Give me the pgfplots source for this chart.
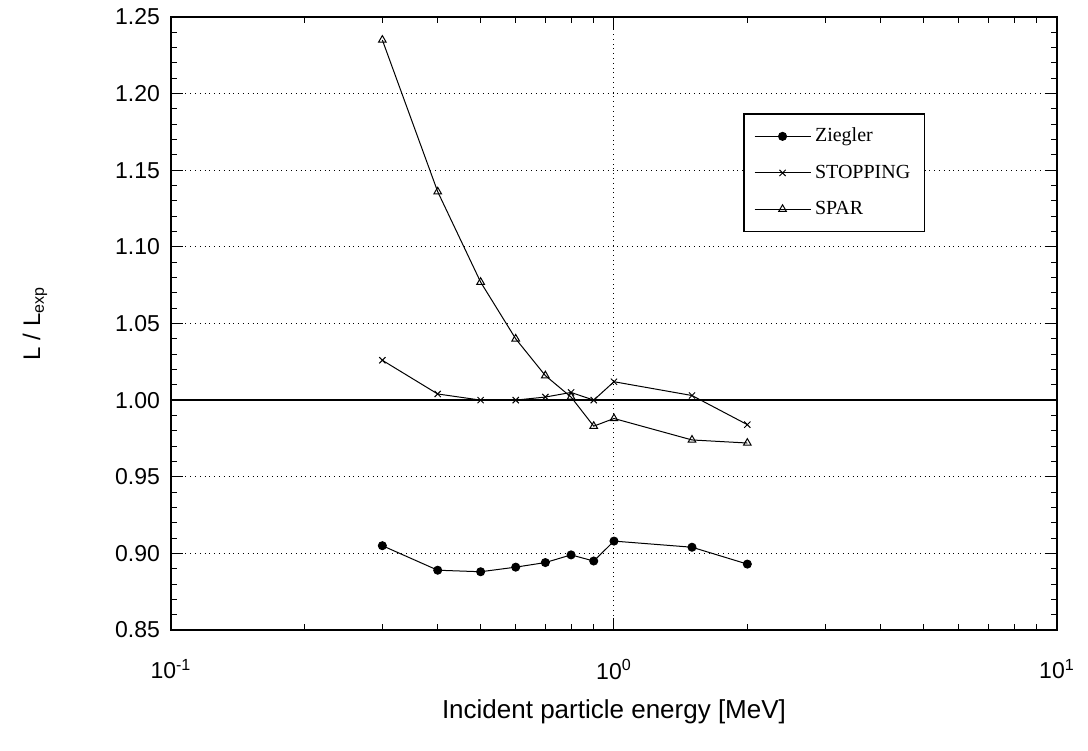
\documentclass[border=0pt]{standalone}
\usepackage{fontspec}
\setmainfont{Liberation Sans}
\newfontfamily\legserif{Liberation Serif}
\usepackage{pgfplots}
\pgfplotsset{compat=1.18}

\pgfplotstableread{
x y
0.3 0.905
0.4 0.889
0.5 0.888
0.6 0.891
0.7 0.894
0.8 0.899
0.9 0.895
1.0 0.908
1.5 0.904
2.0 0.893
}\ziegler

\pgfplotstableread{
x y
0.3 1.026
0.4 1.004
0.5 1.000
0.6 1.000
0.7 1.002
0.8 1.005
0.9 1.000
1.0 1.012
1.5 1.003
2.0 0.984
}\stopping

\pgfplotstableread{
x y
0.3 1.235
0.4 1.136
0.5 1.077
0.6 1.040
0.7 1.016
0.8 1.002
0.9 0.983
1.0 0.988
1.5 0.974
2.0 0.972
}\spar

\begin{document}
\begin{tikzpicture}
\begin{axis}[
  scale only axis,
  width=443pt, height=306.5pt,
  xmode=log,
  xmin=0.1, xmax=10,
  ymin=0.85, ymax=1.25,
  axis line style={line width=0.7pt},
  xtick={0.1,1,10},
  xticklabels={10\textsuperscript{-1},10\textsuperscript{0},10\textsuperscript{1}},
  ytick={0.85,0.90,0.95,1.00,1.05,1.10,1.15,1.20,1.25},
  minor y tick num=4,
  yticklabel style={/pgf/number format/fixed, /pgf/number format/fixed zerofill, /pgf/number format/precision=2, /pgf/number format/assume math mode=true, xshift=-2pt},
  tick label style={font=\fontsize{11.5}{13}\selectfont},
  xticklabel style={yshift=-11pt},
  tick align=inside,
  major tick length=6pt,
  minor tick length=3pt,
  tick style={black, line width=0.5pt},
  xmajorgrids, ymajorgrids,
  major grid style={dotted, black, line width=0.5pt},
  extra y ticks={1},
  extra y tick labels={},
  extra y tick style={grid=major, major grid style={solid, black, line width=0.7pt}},
  xlabel={Incident particle energy [MeV]},
  ylabel={L / L\textsubscript{exp}},
  every axis x label/.style={at={(rel axis cs:0.5,0)}, anchor=center, yshift=-41pt, font=\fontsize{13}{15}\selectfont},
  every axis y label/.style={at={(rel axis cs:0,0.5)}, anchor=center, rotate=90, yshift=68pt, font=\fontsize{12}{14}\selectfont},
  legend style={
    at={(rel axis cs:0.646,0.843)}, anchor=north west,
    font=\legserif\fontsize{10}{12}\selectfont,
    draw=black, line width=0.7pt,
    row sep=6pt, inner xsep=5pt, inner ysep=5pt,
    cells={anchor=west},
  },
  legend image code/.code={
    \draw[mark repeat=2, mark phase=2, line width=0.5pt]
      plot coordinates {(0pt,0pt) (14pt,0pt) (28pt,0pt)};
  },
]
\addplot[black, line width=0.5pt, mark=*, mark size=2pt, mark options={solid, fill=black}] table {\ziegler};
\addlegendentry{Ziegler}
\addplot[black, line width=0.5pt, mark=x, mark size=2.2pt, mark options={solid}] table {\stopping};
\addlegendentry{STOPPING}
\addplot[black, line width=0.5pt, mark=triangle, mark size=2.2pt, mark options={solid, fill=white}] table {\spar};
\addlegendentry{SPAR}
\end{axis}
\path (current axis.south west) ++(-85.5pt,-60.5pt);
\path (current axis.north east) ++(15.5pt,8.5pt);
\end{tikzpicture}
\end{document}
